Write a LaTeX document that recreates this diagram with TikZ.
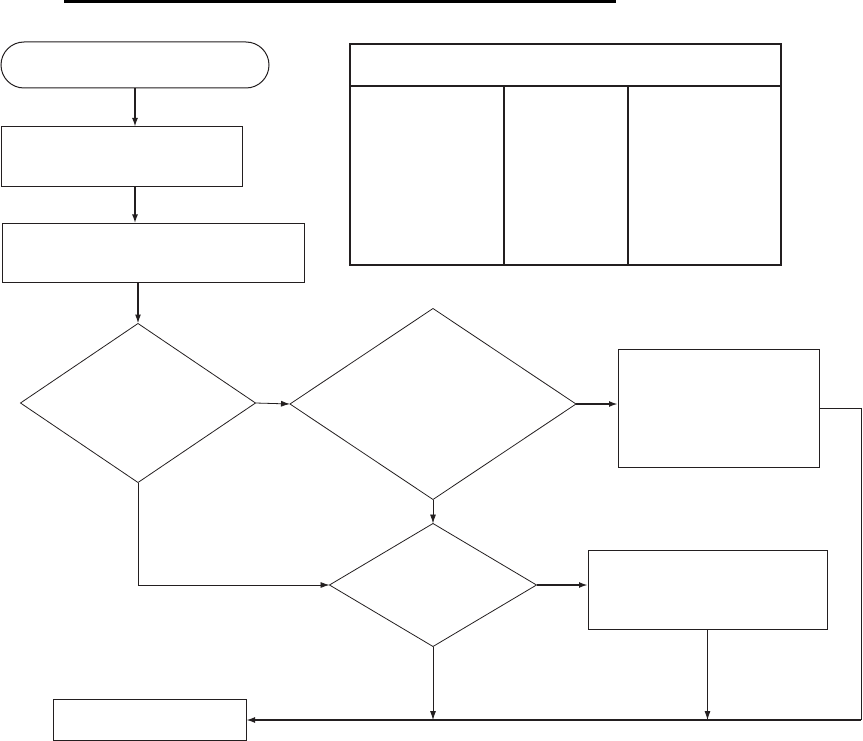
\documentclass[tikz,border=0pt]{standalone}
\usepackage[dvipsnames]{xcolor}
\usepackage{tikz}
\usetikzlibrary{arrows.meta, positioning, shapes}
\definecolor{LIN}{HTML}{231F20}
\tikzset{
  BOX/.style={% Style for process boxes
      rectangle, line width=1pt,
      draw=LIN,
      inner sep=0pt, outer sep=0pt,
  },
  TERM/.style={% Style for the start box
      BOX, rounded corners=23pt,
  },
  DEC/.style={% Style for decisions
      diamond, line width=.8pt,
      draw=LIN,
      inner sep=0pt, outer sep=0pt,
  },
  ARR/.style={
    draw=LIN, -{Latex[length=9pt,width=6pt]}, line width=.8pt
  },
  ARRB/.style={
    ARR, line width=1.8pt
  }
}

\begin{document}
\begin{tikzpicture}[x=1pt, y=-1pt]
    \useasboundingbox (0,0) rectangle (863,741);
    % title bar
    \draw[line width=3.5pt] (64,1.5) -- (616,1.5);
    % left column
    \node[TERM, minimum width=268pt, minimum height=46pt] (start) at (135,65) {};
    \node[BOX, minimum width=241pt, minimum height=60pt] (read) at (121.5,157) {};
    \node[BOX, minimum width=302pt, minimum height=59pt] (prep) at (153,253) {};
    % decisions
    \node[DEC, minimum width=235pt, minimum height=159pt] (askA) at (138,403) {};
    \node[DEC, minimum width=286pt, minimum height=191pt] (askB) at (433,404) {};
    \node[DEC, minimum width=207pt, minimum height=123pt] (askC) at (433,585) {};
    % outcome boxes
    \node[BOX, minimum width=201pt, minimum height=118pt] (doB) at (718.5,408) {};
    \node[BOX, minimum width=239pt, minimum height=79pt] (doC) at (707.5,589.5) {};
    \node[BOX, minimum width=193pt, minimum height=41pt] (stop) at (149.5,720) {};
    \coordinate (rt) at (861,720);
    % table
    \begin{scope}[draw=LIN, line width=2pt]
      \draw (350,44) rectangle (781,265);
      \draw (350,86) -- (781,86);
      \foreach \x in {504, 628} {
        \draw (\x,86) -- (\x,265);
      }
    \end{scope}
    % connectors
    \draw[ARRB] (start.south) -- (start.south |- read.north);
    \draw[ARRB] (start.south |- read.south) -- (start.south |- prep.north);
    \draw[ARR, line width=1.4pt] (prep.south -| askA.north) -- (askA.north);
    \draw[ARR] (askA.east) -- (askB.west);
    \draw[ARRB] (askB.east) -- (askB.east -| doB.west);
    \draw[ARR] (askB.south) -- (askC.north);
    \draw[ARR] (askA.south) |- (askC.west);
    \draw[ARRB] (askC.east) -- (askC.east -| doC.west);
    \draw[ARR] (askC.south) -- (askC.south |- rt);
    \draw[ARR] (doC.south) -- (doC.south |- rt);
    \draw[draw=LIN, line width=.8pt] (doB.east) -- (doB.east -| rt) -- (rt);
    \draw[ARRB, line width=2pt] (rt) -- (stop.east);
\end{tikzpicture}
\end{document}
